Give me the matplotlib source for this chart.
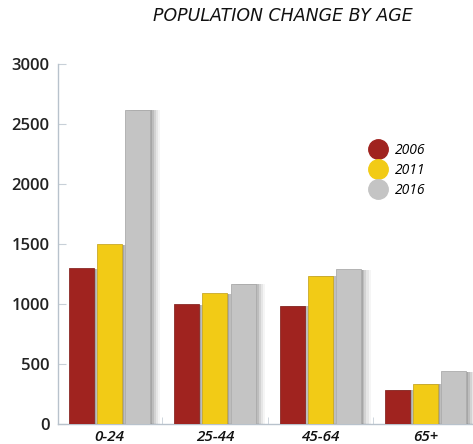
import matplotlib
matplotlib.use("Agg")
import matplotlib.pyplot as plt
import matplotlib.patheffects as pe
from matplotlib.lines import Line2D
import numpy as np

categories = ["0-24", "25-44", "45-64", "65+"]
years = ["2006", "2011", "2016"]
v2006 = [1300, 1000, 985, 285]
v2011 = [1500, 1090, 1235, 335]
v2016 = [2620, 1170, 1290, 440]
series = [v2006, v2011, v2016]
colors = ["#A0231F", "#F2CB16", "#C4C4C4"]
edges = ["#8a2a26", "#c9a928", "#acacac"]
yticks = [0, 500, 1000, 1500, 2000, 2500, 3000]

plt.rcParams['font.family'] = ['Open Sans', 'DejaVu Sans']

fig = plt.figure(figsize=(4.73, 4.44), dpi=100)
ax = fig.add_axes([58/473, 1-424/444, 1-58/473, (424-64)/444])

x = np.arange(len(categories))
width = 0.238
step = 0.267
shadow = [pe.SimplePatchShadow(offset=(o, -0.5), shadow_rgbFace='black', alpha=a)
          for o, a in [(7, 0.04), (5.5, 0.06), (4, 0.08), (2.5, 0.10), (1.2, 0.12)]]
for i, (vals, c, e) in enumerate(zip(series, colors, edges)):
    bars = ax.bar(x + (i-1)*step, vals, width, color=c, edgecolor=e, linewidth=0.6, zorder=3)
    for b in bars:
        b.set_path_effects(shadow + [pe.Normal()])

ax.set_xlim(-0.49, 3.45)
ax.set_ylim(0, 3000)
ax.set_yticks(yticks)
ax.set_yticklabels([str(t) for t in yticks], fontsize=12, fontweight='semibold', color='#222222')
ax.tick_params(axis='y', direction='in', length=6, color='#c8d0d8', pad=6)
ax.set_xticks(x)
ax.set_xticklabels(categories, fontsize=11, fontstyle='italic', fontweight='semibold', color='#111111')
ax.tick_params(axis='x', length=0, pad=4)
ax.set_xticks(x[:-1] + 0.5, minor=True)
ax.tick_params(axis='x', which='minor', direction='in', length=5, color='#c8d0d8')

for s in ['top', 'right']:
    ax.spines[s].set_visible(False)
for s in ['left', 'bottom']:
    ax.spines[s].set_color('#b8c2cc')
    ax.spines[s].set_linewidth(1.0)

handles = [Line2D([0], [0], marker='o', linestyle='none', markersize=14,
                  markerfacecolor=c, markeredgecolor=c) for c in colors]
leg = fig.legend(handles, years, loc='upper left', bbox_to_anchor=(355/473, 1-130/444),
                 frameon=False, handletextpad=0.45, labelspacing=0.36, handlelength=1.5,
                 prop={'style': 'italic', 'size': 10, 'weight': 'medium'})

fig.text(283/473, 1-16/444, "POPULATION CHANGE BY AGE", ha='center', va='center',
         fontsize=12.5, fontstyle='italic', color='#111111', family=['DejaVu Sans'])

fig.savefig("out.png", dpi=100)
